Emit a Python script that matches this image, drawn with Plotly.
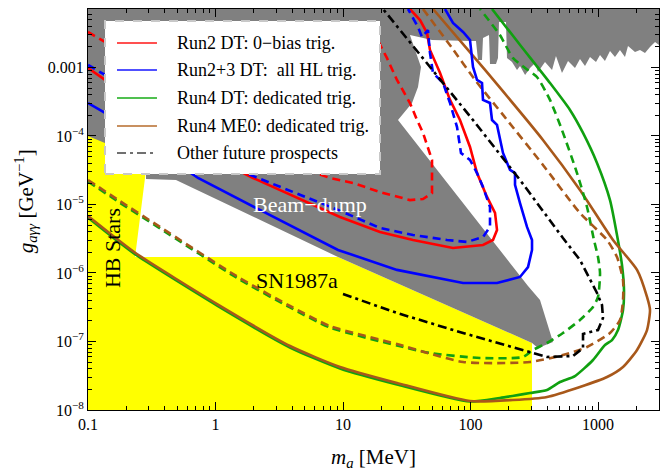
import math
import plotly.graph_objects as go

# ---------------- data (m_a in MeV, g in GeV^-1) ----------------
gray_x = [0.1, 3009, 3009, 2800, 2557, 2337, 2135, 1951, 1719, 1628, 1487, 1359, 1242, 1134, 1037, 964.5,
          865.5, 790.8, 722.5, 660, 582, 522, 468, 436, 384, 364, 338, 321, 293, 268, 244.5, 231.6, 211.6,
          193.3, 189.8, 167.3, 164.3, 158.5, 142.2, 139.7, 125.3, 123.1, 114.5, 110.4, 99.1, 49.9, 33.5,
          40.9, 38.75, 34.8, 27.0, 282.5, 350.9, 443.7, 338.4, 303.7, 9.14, 0.49, 0.285, 0.285, 0.1]
gray_y = [7.14e-3, 7.14e-3, 2.13e-3, 2.36e-3, 1.99e-3, 1.63e-3, 1.80e-3, 1.68e-3, 2.06e-3, 1.42e-3, 1.80e-3,
          1.42e-3, 1.74e-3, 1.24e-3, 1.52e-3, 1.20e-3, 1.42e-3, 1.05e-3, 1.33e-3, 9.84e-4, 1.24e-3, 8.32e-4,
          1.47e-3, 9.20e-4, 1.20e-3, 1.05e-3, 8.60e-4, 1.16e-3, 9.84e-4, 7.78e-4, 1.05e-3, 9.20e-4, 1.20e-3,
          1.38e-3, 4.61e-3, 4.61e-3, 1.38e-3, 1.12e-3, 1.12e-3, 2.98e-3, 2.70e-3, 1.29e-3, 1.29e-3, 2.44e-3,
          2.44e-3, 2.52e-3, 2.98e-3, 1.02e-3, 5.19e-4, 3.03e-4, 1.71e-4, 6.46e-7, 4.04e-7, 9.84e-8, 8.04e-8,
          9.51e-8, 1.71e-6, 2.28e-5, 2.36e-5, 4.47e-5, 1.0e-4]

yellow_x = [0.1, 0.1, 0.306, 0.28, 0.234, 9.14, 303.7, 303.7]
yellow_y = [1e-8, 1.22e-4, 1.22e-4, 2.44e-5, 1.71e-6, 1.71e-6, 9.51e-8, 1e-8]

me0_solid_x = [0.1, 0.169, 0.242, 1.03, 3.84, 9.47, 26.5, 99.1, 215, 398, 722, 1177, 1571, 2023, 2423, 2557,
               2423, 2023, 1311, 722, 370, 130, 50.8]
me0_solid_y = [6.79e-6, 3.13e-6, 1.89e-6, 3.52e-7, 8.60e-8, 4.25e-8, 2.48e-8, 1.35e-8, 1.40e-8, 1.55e-8,
               2.17e-8, 3.03e-8, 4.25e-8, 7.52e-8, 1.47e-7, 2.88e-7, 4.47e-7, 1.11e-6, 3.03e-6, 1.63e-5,
               8.75e-5, 9.20e-4, 7.14e-3]

dt4_solid_x = [0.1, 0.169, 0.242, 1.03, 3.84, 9.47, 26.5, 99.1, 170, 293, 398, 503, 660, 914, 1134, 1288,
               1435, 1571, 1599, 1542, 1409, 1242, 982, 763, 603, 420, 245, 147.5]
dt4_solid_y = [6.45e-6, 2.97e-6, 1.80e-6, 3.34e-7, 8.17e-8, 4.04e-8, 2.36e-8, 1.33e-8, 1.50e-8, 1.77e-8,
               1.96e-8, 2.56e-8, 3.13e-8, 5.37e-8, 8.89e-8, 1.05e-7, 1.47e-7, 2.88e-7, 5.65e-7, 1.31e-6,
               3.59e-6, 1.16e-5, 4.04e-5, 1.11e-4, 2.40e-4, 5.94e-4, 2.13e-3, 7.14e-3]

me0_dash_x = [0.1, 0.178, 0.367, 1.50, 3.84, 7.91, 26.5, 87.4, 293, 531, 820, 1242, 1487, 1571, 1571, 1409,
              1177, 722, 370, 180, 108.5, 71.6, 42.4]
me0_dash_y = [2.28e-5, 1.12e-5, 4.70e-6, 8.75e-7, 3.30e-7, 1.68e-7, 9.20e-8, 5.02e-8, 5.02e-8, 6.35e-8,
              8.32e-8, 1.33e-7, 2.06e-7, 4.04e-7, 7.91e-7, 1.71e-6, 3.03e-6, 7.52e-6, 3.78e-5, 2.03e-4,
              6.58e-4, 1.93e-3, 7.14e-3]

dt4_dash_x = [0.1, 0.178, 0.367, 1.50, 3.84, 7.91, 26.5, 48.1, 118.7, 258, 309, 398, 531, 722, 914, 1000,
              1037, 1000, 930, 820, 684.5, 522, 420, 332, 268, 215, 170, 118.7]
dt4_dash_y = [2.17e-5, 1.06e-5, 4.47e-6, 8.31e-7, 3.14e-7, 1.60e-7, 8.74e-8, 6.79e-8, 5.74e-8, 5.94e-8,
              7.52e-8, 9.51e-8, 1.33e-7, 2.06e-7, 3.19e-7, 4.47e-7, 1.0e-6, 1.71e-6, 3.03e-6, 9.20e-6,
              2.88e-5, 1.22e-4, 3.36e-4, 7.26e-4, 9.84e-4, 1.38e-3, 2.98e-3, 7.14e-3]

run2_solid_x = [0.1, 0.136, 0.527, 1.70, 1.97, 9.47, 19.5, 35.4, 72.9, 125.3, 150.1, 161.4, 155.7, 134.7,
                112.5, 99.1, 82.7, 69.1, 57.7, 48.1, 45.6, 42.4, 40.2, 33.5]
run2_solid_y = [9.84e-4, 6.58e-4, 1.04e-4, 2.79e-5, 2.44e-5, 6.58e-6, 3.97e-6, 3.03e-6, 2.32e-6, 2.56e-6,
                3.03e-6, 4.25e-6, 7.52e-6, 1.29e-5, 2.88e-5, 6.91e-5, 1.71e-4, 3.36e-4, 8.32e-4, 1.80e-3,
                3.19e-3, 4.17e-3, 4.93e-3, 7.14e-3]

run2_dash_x = [0.1, 0.136, 0.756, 4.60, 7.91, 11.98, 19.5, 33.5, 42.4, 49.9, 49.9, 46.4, 42.4, 38.1, 33.5,
               26.5, 22.1, 17.8]
run2_dash_y = [3.30e-3, 2.36e-3, 3.36e-4, 3.41e-5, 2.44e-5, 2.06e-5, 1.52e-5, 1.16e-5, 1.20e-5, 1.47e-5,
               4.47e-5, 6.91e-5, 1.11e-4, 1.71e-4, 3.03e-4, 6.58e-4, 1.38e-3, 2.98e-3]

hl_solid_x = [0.1, 0.136, 0.306, 0.729, 2.23, 9.14, 26.5, 87.4, 161.4, 244.5, 282.5, 303.7, 303.7, 277.4,
              244.5, 223.4, 223.4, 204.1, 179.8, 161.4, 147.5, 142.2, 125.3, 123.1, 112.5, 104.6, 99.1,
              87.4, 72.9, 63.1]
hl_solid_y = [3.03e-4, 2.17e-4, 7.40e-5, 2.44e-5, 8.32e-6, 2.17e-6, 1.11e-6, 7.15e-7, 7.15e-7, 8.75e-7,
              1.22e-6, 2.17e-6, 3.03e-6, 4.70e-6, 1.05e-5, 1.93e-5, 2.88e-5, 3.19e-5, 5.65e-5, 1.45e-4,
              1.71e-4, 3.03e-4, 3.36e-4, 5.94e-4, 6.58e-4, 1.02e-3, 2.52e-3, 3.30e-3, 4.47e-3, 7.14e-3]

hl_dash_x = [0.1, 0.136, 0.527, 1.865, 2.15, 9.14, 19.5, 35.4, 65.4, 93.9, 125.3, 142.2, 142.2, 125.3,
             112.5, 99.1, 84.2, 78.4, 69.1, 60.9, 50.8, 48.1, 46.4, 41.65, 38.75, 32.35]
hl_dash_y = [1.09e-3, 7.78e-4, 1.22e-4, 2.70e-5, 2.44e-5, 8.32e-6, 4.54e-6, 3.59e-6, 3.03e-6, 2.84e-6,
             3.36e-6, 4.70e-6, 9.20e-6, 1.80e-5, 2.88e-5, 4.47e-5, 5.65e-5, 1.35e-4, 3.03e-4, 5.94e-4,
             8.32e-4, 1.63e-3, 3.52e-3, 2.79e-3, 3.90e-3, 7.14e-3]

other_x = [10.0, 26.5, 87.4, 215, 309, 398, 637, 763, 763, 1000, 1094, 1075, 982, 865, 722, 531, 244.5,
           104.6, 48.1, 20.6]
other_y = [4.93e-7, 2.61e-7, 1.33e-7, 8.32e-8, 6.79e-8, 5.94e-8, 6.14e-8, 8.04e-8, 1.29e-7, 1.47e-7,
           2.20e-7, 3.41e-7, 5.11e-7, 7.91e-7, 1.55e-6, 3.24e-6, 2.28e-5, 1.71e-4, 1.02e-3, 7.14e-3]

x_ticks = [0.1, 1, 10, 100, 1000]
x_ticktext = ["0.1", "1", "10", "100", "1000"]
y_ticks = [1e-8, 1e-7, 1e-6, 1e-5, 1e-4, 1e-3]
y_ticktext = ["10<sup>−8</sup>", "10<sup>−7</sup>", "10<sup>−6</sup>", "10<sup>−5</sup>", "10<sup>−4</sup>", "0.001"]

legend_labels = ["Run2 DT: 0−bias trig.", "Run2+3 DT: &nbsp;all HL trig.", "Run4 DT: dedicated trig.",
                 "Run4 ME0: dedicated trig.", "Other future prospects"]

# ---------------- styles ----------------
RED = "#ff0000"
BLUE = "#0000ff"
GREEN = "#10a010"
BROWN = "#a8581a"
GRAY = "#808080"
YELLOW = "#ffff00"
FONT = "Liberation Serif"
DASH = "8px,5px"
DASHDOT = "9px,4px,3px,4px"
LW = 2.6

fig = go.Figure()


def fill_poly(x, y, color):
    fig.add_trace(go.Scatter(x=x, y=y, mode="lines", fill="toself", fillcolor=color,
                             line=dict(width=0), hoverinfo="skip", showlegend=False))


def curve(x, y, color, dash="solid", shape="linear"):
    fig.add_trace(go.Scatter(x=x, y=y, mode="lines",
                             line=dict(color=color, width=LW, dash=dash, shape=shape, smoothing=0.6),
                             hoverinfo="skip", showlegend=False))


fill_poly(yellow_x, yellow_y, YELLOW)
fill_poly(gray_x, gray_y, GRAY)

curve(dt4_solid_x, dt4_solid_y, GREEN, shape="spline")
curve(me0_solid_x, me0_solid_y, BROWN, shape="spline")
curve(dt4_dash_x, dt4_dash_y, GREEN, DASH, shape="spline")
curve(me0_dash_x, me0_dash_y, BROWN, DASH, shape="spline")
curve(run2_solid_x, run2_solid_y, RED)
curve(hl_dash_x, hl_dash_y, BLUE, DASH)
curve(hl_solid_x, hl_solid_y, BLUE)
curve(run2_dash_x, run2_dash_y, RED, DASH)
curve(other_x, other_y, "black", DASHDOT)

# minor ticks
x_minor = [m * 10 ** e for e in range(-1, 4) for m in range(2, 10) if m * 10 ** e < 3009]
y_minor = [m * 10.0 ** e for e in range(-8, -2) for m in range(2, 10) if m * 10.0 ** e < 7.1e-3]

axis_common = dict(type="log", showgrid=False, zeroline=False, showline=True, linecolor="black",
                   linewidth=1, mirror="allticks", ticks="inside", ticklen=8, tickwidth=1,
                   tickcolor="black", tickfont=dict(family=FONT, size=16, color="black"))

fig.update_xaxes(range=[-1, math.log10(3009)], tickvals=x_ticks, ticktext=x_ticktext,
                 minor=dict(tickvals=x_minor, ticks="inside", ticklen=4, tickcolor="black", showgrid=False),
                 **axis_common)
fig.update_yaxes(range=[-8, math.log10(7.14e-3)], tickvals=y_ticks, ticktext=y_ticktext,
                 minor=dict(tickvals=y_minor, ticks="inside", ticklen=4, tickcolor="black", showgrid=False),
                 **axis_common)

# ---------------- legend (drawn box) ----------------
shapes = [dict(type="rect", xref="paper", yref="paper", x0=0.0298, x1=0.5114, y0=0.5885, y1=0.9701,
               fillcolor="white", line=dict(color="#c8c8c8", width=2, dash="dash"), layer="above")]
legend_colors = ["#ff5050", "#5050ff", "#50c050", "#c89060", "#707070"]
legend_dashes = ["solid", "solid", "solid", "solid", "9px,4px,3px,4px"]
row_y = [0.9152, 0.8479, 0.7781, 0.7082, 0.6409]
annotations = []
for lab, col, dsh, yy in zip(legend_labels, legend_colors, legend_dashes, row_y):
    shapes.append(dict(type="line", xref="paper", yref="paper", x0=0.0508, x1=0.1208, y0=yy, y1=yy,
                       line=dict(color=col, width=2, dash=dsh), layer="above"))
    annotations.append(dict(xref="paper", yref="paper", x=0.1524, y=yy, text=lab, showarrow=False,
                            xanchor="left", yanchor="middle", font=dict(family=FONT, size=18, color="black")))

# region labels (data coordinates; log axes take log10 positions)
annotations += [
    dict(x=math.log10(5.5), y=math.log10(1.0e-5), text="Beam−dump", showarrow=False,
         font=dict(family=FONT, size=22, color="white")),
    dict(x=math.log10(4.35), y=math.log10(7.9e-7), text="SN1987a", showarrow=False,
         font=dict(family=FONT, size=22, color="black")),
    dict(x=math.log10(0.154), y=math.log10(2.3e-6), text="HB Stars", showarrow=False, textangle=-90,
         font=dict(family=FONT, size=22, color="black")),
    dict(xref="paper", yref="paper", x=0.5, y=-0.1197, text="<i>m<sub>a</sub></i> [MeV]", showarrow=False,
         xanchor="center", yanchor="middle", font=dict(family=FONT, size=21, color="black")),
    dict(xref="paper", yref="paper", x=-0.110, y=0.521, text="<i>g<sub>aγγ</sub></i> [GeV<sup>−1</sup>]",
         showarrow=False, textangle=-90, xanchor="center", yanchor="middle",
         font=dict(family=FONT, size=21, color="black")),
]

# the page body adds an 8px offset, so the figure is drawn 8px smaller with shifted margins
fig.update_layout(width=660, height=464, margin=dict(l=80, r=9, t=1, b=62, autoexpand=False),
                  paper_bgcolor="white", plot_bgcolor="white", showlegend=False,
                  font=dict(family=FONT, size=16, color="black"),
                  shapes=shapes, annotations=annotations)

fig.write_html("out.html")
